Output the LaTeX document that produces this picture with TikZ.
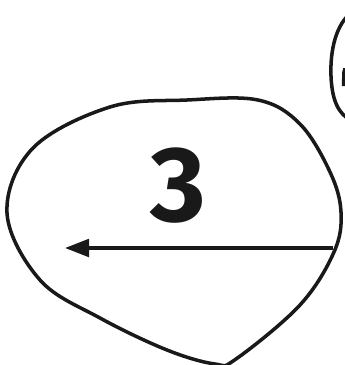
\documentclass[tikz,border=0pt]{standalone}
\usepackage{fontspec}
\newfontfamily\digitfont{Fira Sans}
\usetikzlibrary{arrows.meta}
\tikzset{outline/.style={line width=2.5pt, line join=round}}

\begin{document}
\begin{tikzpicture}[x=0.25mm, y=-0.25mm]
\useasboundingbox (0,0) rectangle (345,365);
\clip (0,0) rectangle (345,365);
% region 3
\draw[outline, black!90] plot[smooth cycle, tension=0.6] coordinates {
  (7,213) (33,148) (110,107) (187,100) (258,100) (300,124) (330,172)
  (341,212) (334,252) (300,305) (236,359) (215,364) (167,350) (100,318) (40,280)};
\draw(178,221) node[anchor=base, black!90] (n3) {\digitfont\fontsize{76}{76}\selectfont\bfseries 3};
% arrow across
\coordinate (aR) at (333,248);
\coordinate (aL) at (65,248);
\draw[black!90, line width=2.4pt, -{Triangle[length=6mm, width=4.4mm]}] (aR) -- (aL);
% neighbouring region
\draw[outline, black!90] (352,12) .. controls (336,24) and (330,50) .. (331,76)
  .. controls (332,100) and (338,114) .. (352,121);
\fill[black!90] (343.3,68) -- (345,68) -- (345,86) -- (341.8,86) -- (342.2,72) -- cycle;
\end{tikzpicture}
\end{document}
